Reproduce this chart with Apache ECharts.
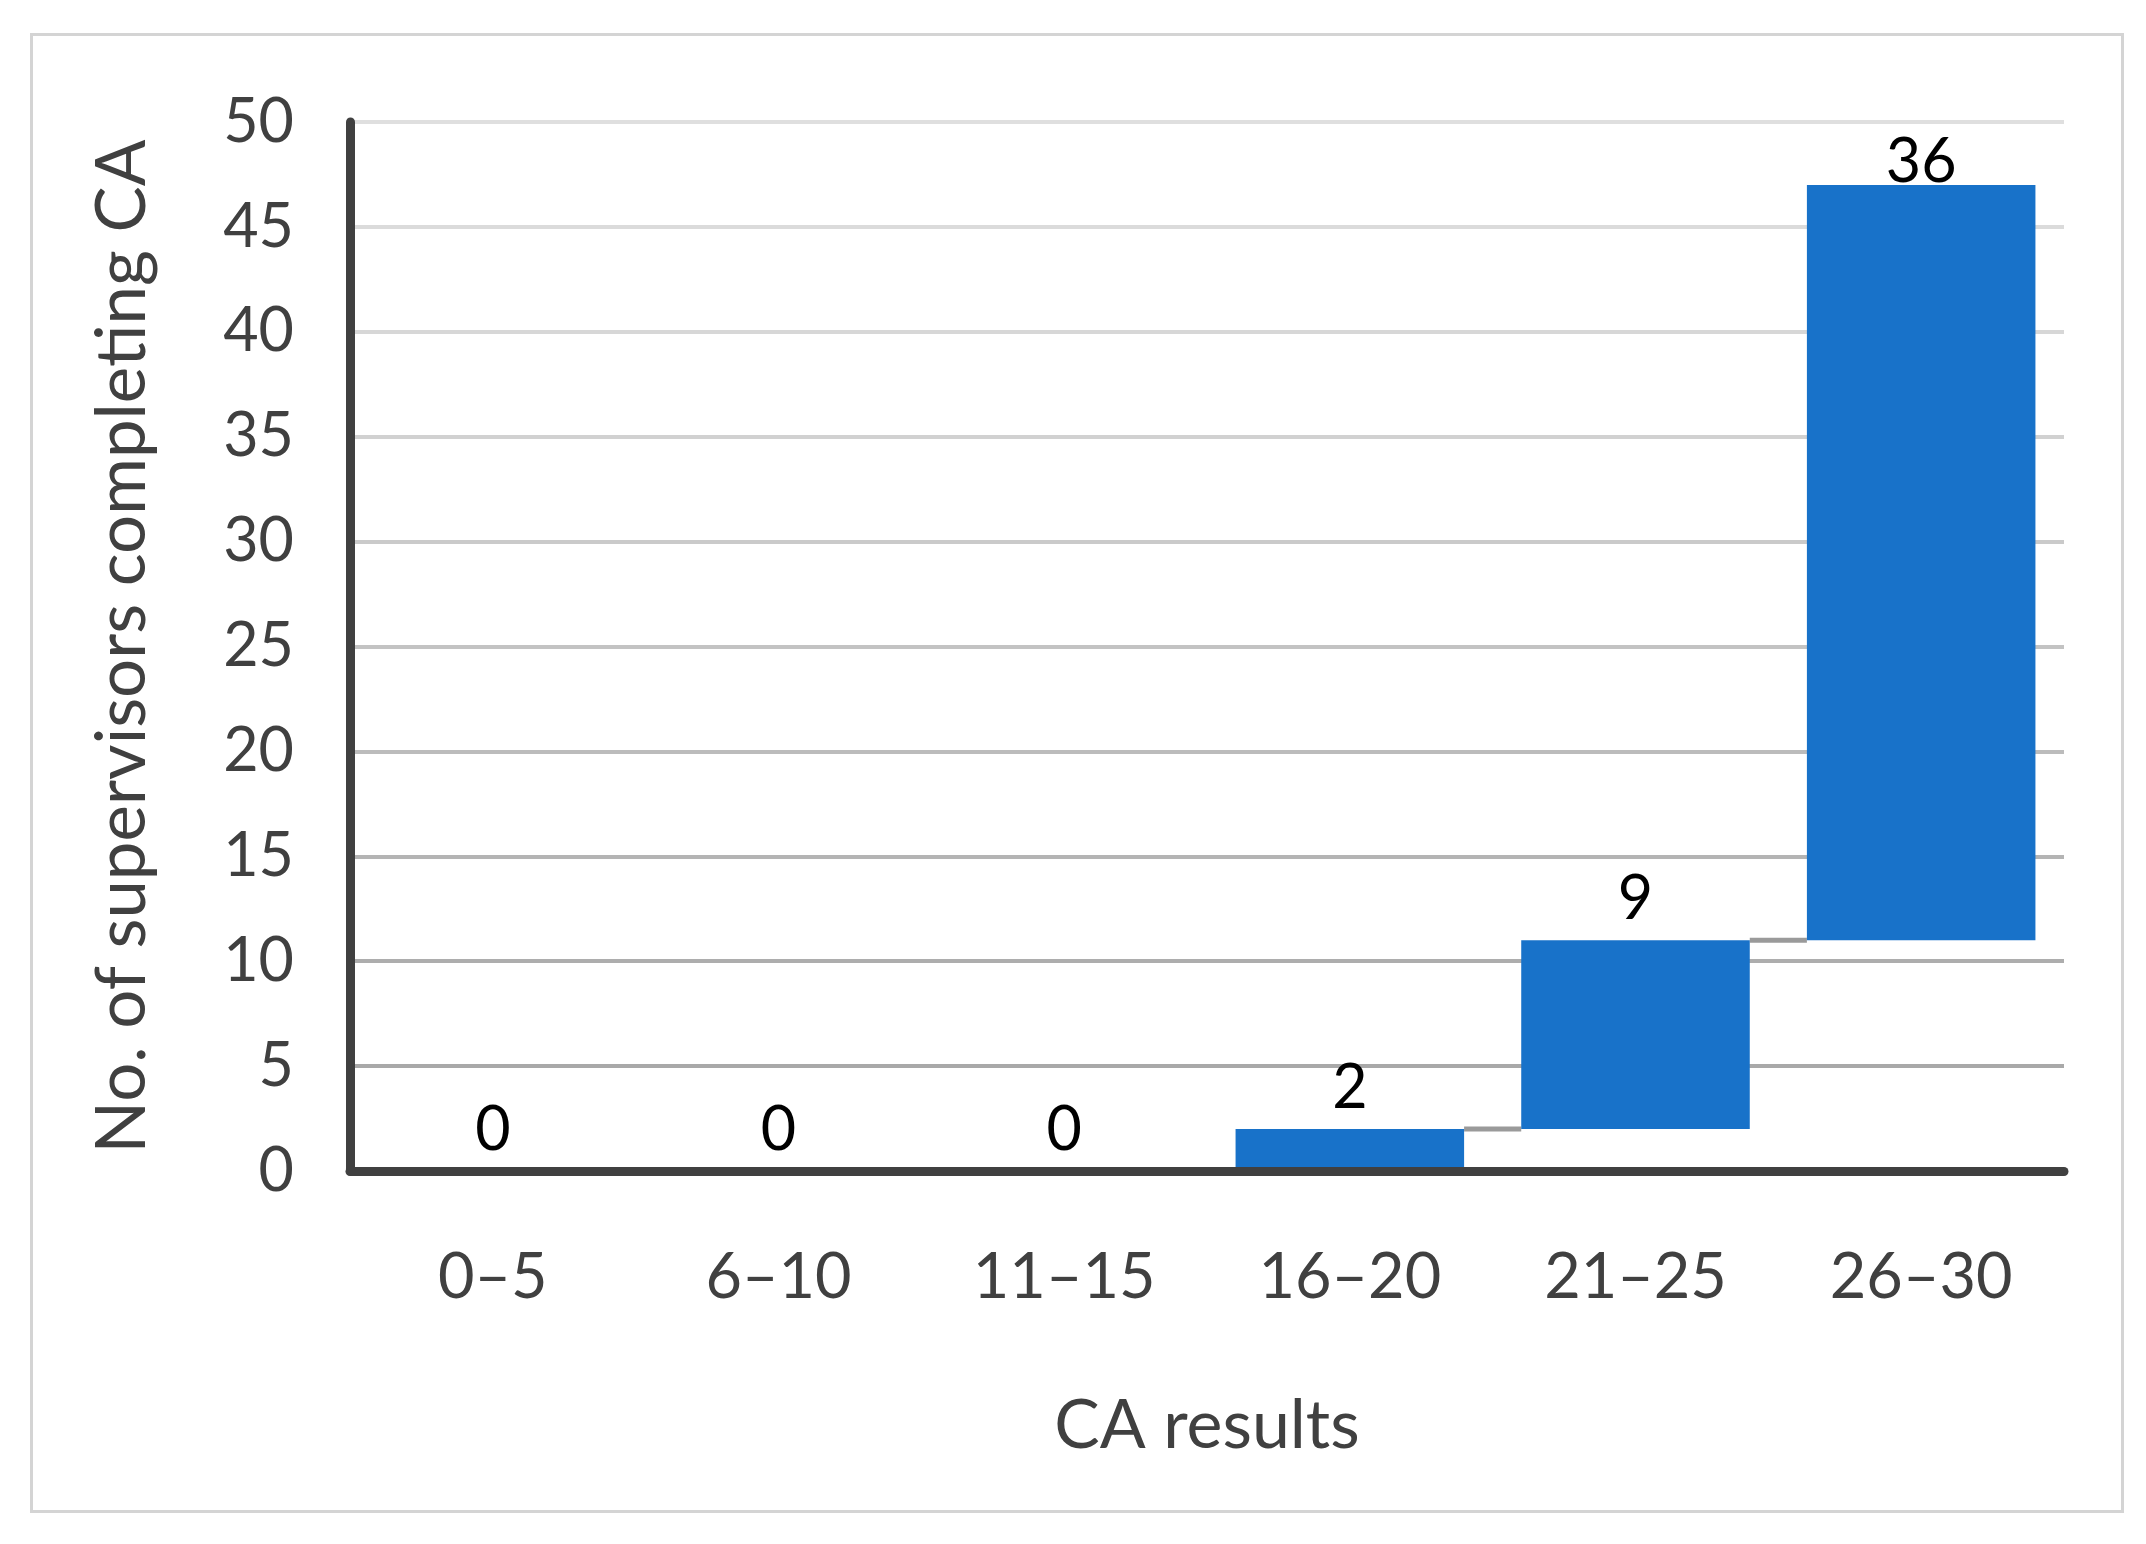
<!DOCTYPE html>
<html>
<head>
<meta charset="utf-8">
<script src="https://cdn.jsdelivr.net/npm/echarts@6/dist/echarts.min.js"></script>
<style>
html,body{margin:0;padding:0;background:#fff;}
#chart{width:2146px;height:1544px;}
</style>
</head>
<body>
<div id="chart"></div>
<script>
var categories = ['0–5', '6–10', '11–15', '16–20', '21–25', '26–30'];
var counts = [0, 0, 0, 2, 9, 36];
var yTicks = [0, 5, 10, 15, 20, 25, 30, 35, 40, 45, 50];
var xTitle = 'CA results';
var yTitle = 'No. of supervisors completing CA';

// waterfall: each bar starts where the previous one ended
var bases = [];
var ends = [];
var run = 0;
counts.forEach(function (v) { bases.push(run); run += v; ends.push(run); });

var FONT = 'Lato';
var AXIS_TEXT = '#404040';
var BAR_COLOR = '#1872c9';
var BAR_RATIO = 0.8;

var gridColors = ['#a9a9a9', '#a9a9a9', '#adadad', '#b4b4b4', '#bcbcbc', '#c3c3c3',
                  '#cacaca', '#d1d1d1', '#d7d7d7', '#dbdbdb', '#dfdfdf'];

var connectorData = [];
for (var i = 0; i < counts.length - 1; i++) connectorData.push([i, ends[i]]);

var chart = echarts.init(document.getElementById('chart'), null, {renderer: 'canvas'});
chart.setOption({
  backgroundColor: '#ffffff',
  animation: false,
  textStyle: {fontFamily: FONT},
  graphic: [{
    type: 'rect', left: 30, top: 33, z: -10,
    shape: {width: 2091, height: 1477},
    style: {fill: '#ffffff', stroke: '#d4d4d4', lineWidth: 3}
  }],
  grid: {left: 350, right: 82, top: 122, bottom: 373, containLabel: false},
  xAxis: {
    type: 'category',
    data: categories,
    name: xTitle,
    nameLocation: 'middle',
    nameGap: 221,
    nameTextStyle: {fontFamily: FONT, fontSize: 68, color: AXIS_TEXT},
    axisLine: {show: true, lineStyle: {color: '#404040', width: 9}},
    axisTick: {show: false},
    axisLabel: {fontFamily: FONT, fontSize: 63, color: AXIS_TEXT, margin: 75},
    splitLine: {show: false},
    z: 5
  },
  yAxis: {
    type: 'value',
    min: yTicks[0],
    max: yTicks[yTicks.length - 1],
    interval: yTicks[1] - yTicks[0],
    name: yTitle,
    nameLocation: 'middle',
    nameGap: 193,
    nameRotate: 90,
    nameTextStyle: {fontFamily: FONT, fontSize: 69, color: AXIS_TEXT},
    axisLine: {show: true, lineStyle: {color: '#404040', width: 9}},
    axisTick: {show: false},
    axisLabel: {fontFamily: FONT, fontSize: 61, color: AXIS_TEXT, margin: 56},
    splitLine: {show: true, lineStyle: {color: gridColors, width: 4}}
  },
  series: [
    {
      name: 'base',
      type: 'bar',
      stack: 'waterfall',
      barWidth: (BAR_RATIO * 100) + '%',
      itemStyle: {color: 'transparent'},
      emphasis: {disabled: true},
      data: bases,
      z: 2
    },
    {
      name: 'count',
      type: 'bar',
      stack: 'waterfall',
      barWidth: (BAR_RATIO * 100) + '%',
      itemStyle: {color: BAR_COLOR},
      label: {
        show: true,
        position: 'top',
        distance: 10,
        fontFamily: FONT,
        fontSize: 61,
        color: '#000000'
      },
      data: counts.map(function (v, idx) {
        // last label is pulled down to stay inside the plot, as in the reference
        return idx === counts.length - 1 ? {value: v, label: {distance: -8}} : v;
      }),
      z: 3
    },
    {
      name: 'connector',
      type: 'custom',
      data: connectorData,
      z: 1,
      renderItem: function (params, api) {
        var idx = api.value(0);
        var lvl = api.value(1);
        var p1 = api.coord([idx, lvl]);
        var p2 = api.coord([idx + 1, lvl]);
        var half = api.size([1, 0])[0] * BAR_RATIO / 2;
        return {
          type: 'line',
          shape: {x1: p1[0] + half, y1: p1[1], x2: p2[0] - half, y2: p2[1]},
          style: {stroke: '#9a9a9a', lineWidth: 5}
        };
      }
    }
  ]
});
</script>
</body>
</html>
